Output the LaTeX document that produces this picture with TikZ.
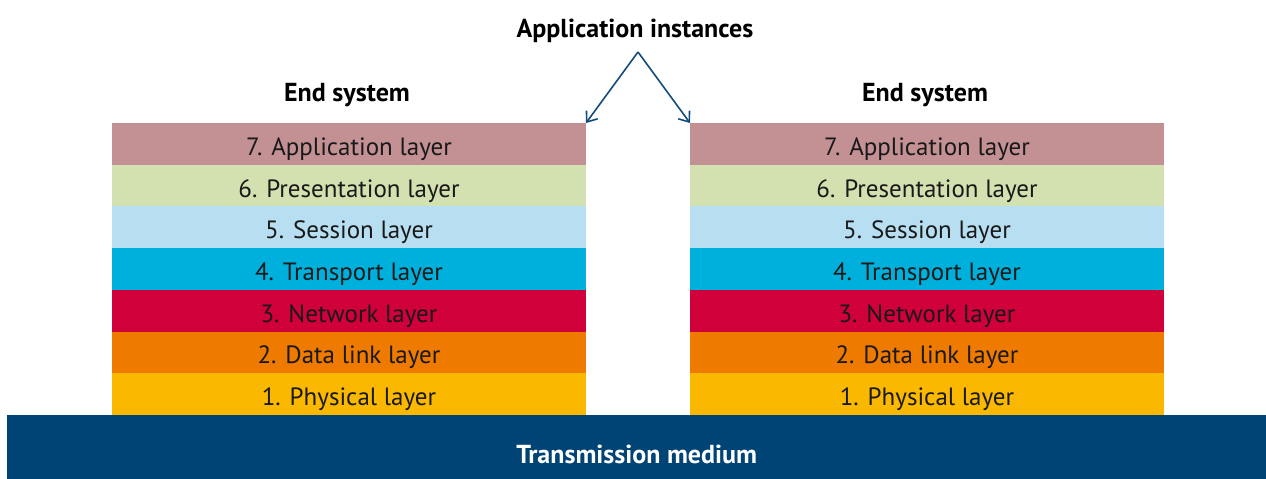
\documentclass[tikz,border=0pt]{standalone}
\usepackage{fontspec}
\setmainfont{PT Sans}
\usetikzlibrary{positioning,arrows.meta}
\definecolor{c7}{HTML}{C39094}
\definecolor{c6}{HTML}{D3E0AF}
\definecolor{c5}{HTML}{B7DFF1}
\definecolor{c4}{HTML}{00B0DC}
\definecolor{c3}{HTML}{D0003B}
\definecolor{c2}{HTML}{EE7A00}
\definecolor{c1}{HTML}{FAB900}
\definecolor{medium}{HTML}{004476}
\definecolor{arrowblue}{HTML}{134C7C}
\tikzset{
	layer/.style={minimum width=474pt, minimum height=41.71pt, inner sep=0pt, outer sep=0pt,
		text height=23pt, text depth=0pt, text=black!90, font=\fontsize{25}{28}\selectfont},
	head/.style={inner sep=0pt, font=\bfseries\fontsize{26}{29}\selectfont},
}
\begin{document}
\begin{tikzpicture}[x=1pt, y=-1pt]
\useasboundingbox (0,0) rectangle (1266,479);
% two end systems
\foreach \s/\x in {L/112, R/690}{
	\node [layer, fill=c7, anchor=north west] (\s7) at (\x,123) {7. Application layer};
	\foreach \n/\t [remember=\n as \p (initially 7)] in {6/6. Presentation layer, 5/5. Session layer, 4/4. Transport layer, 3/3. Network layer, 2/2. Data link layer, 1/1. Physical layer}{
		\node [layer, fill=c\n, below=0pt of \s\p] (\s\n) {\t};
	}
}
\node [head] (endL) at (347,95) {End system};
\node [head] (endR) at (925,95) {End system};
% medium
\node [anchor=north west, fill=medium, minimum width=1259pt, minimum height=64pt, inner sep=0pt,
	text height=32pt, text depth=0pt, text=white, font=\bfseries\fontsize{26}{29}\selectfont] (medium) at (7,415) {Transmission medium};
% application instances
\node [head] (inst) at (635,31) {Application instances};
\coordinate (apex) at (638,52);
\draw [arrowblue, line width=1.6pt, -{Straight Barb[length=9pt, width=14pt]}] (apex) -- (L7.north east);
\draw [arrowblue, line width=1.6pt, -{Straight Barb[length=9pt, width=14pt]}] (apex) -- (R7.north west);
\end{tikzpicture}
\end{document}
